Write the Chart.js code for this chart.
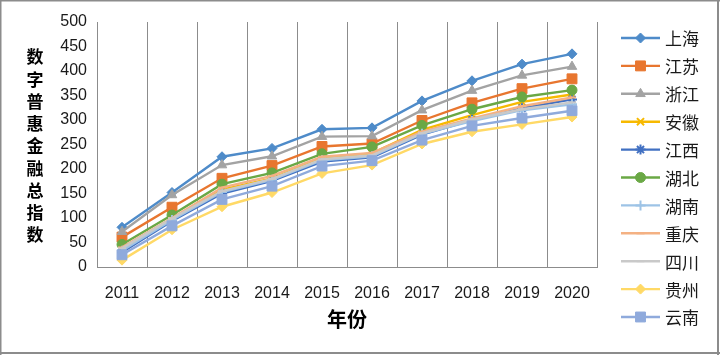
<!DOCTYPE html>
<html><head><meta charset="utf-8">
<script src="https://cdn.jsdelivr.net/npm/chart.js@4/dist/chart.umd.min.js"></script>
<style>html,body{margin:0;padding:0;background:#fff;}#wrap{width:720px;height:355px;}</style>
</head><body><div id="wrap"><canvas id="c" width="720" height="355"></canvas></div>
<script>
// ---- data ----
const years = ['2011','2012','2013','2014','2015','2016','2017','2018','2019','2020'];
const seriesNames = ['上海','江苏','浙江','安徽','江西','湖北','湖南','重庆','四川','贵州','云南'];
const shanghai  = [81, 152, 225, 242, 281, 284, 339, 380, 414, 435];
const jiangsu   = [61, 122, 181, 207, 246, 252, 299, 335, 364, 384];
const zhejiang  = [72, 147, 208, 226, 266, 267, 320, 360, 391, 409];
const anhui     = [36, 97, 158, 181, 222, 232, 280, 310, 337, 352];
const jiangxi   = [30, 94, 150, 176, 215, 224, 270, 300, 324, 342];
const hubei     = [46, 106, 169, 192, 231, 245, 289, 322, 347, 361];
const hunan     = [33, 96, 153, 178, 218, 226, 272, 298, 320, 332];
const chongqing = [40, 100, 162, 186, 225, 233, 276, 303, 328, 346];
const sichuan   = [38, 99, 155, 180, 220, 228, 273, 301, 322, 336];
const guizhou   = [14, 76, 123, 152, 191, 208, 251, 276, 291, 306];
const yunnan    = [25, 84, 138, 165, 206, 217, 259, 288, 304, 319];
const yTicks    = [0, 50, 100, 150, 200, 250, 300, 350, 400, 450, 500];
const xTitle = '年份';
const yTitle = '数字普惠金融总指数';

const seriesValues = [shanghai, jiangsu, zhejiang, anhui, jiangxi, hubei, hunan, chongqing, sichuan, guizhou, yunnan];

// ---- styles ----
const colors = ['#4e8bc9','#e8762f','#a3a3a3','#f7b900','#4170c2','#6aa845','#9dc3e6','#f4b183','#c9c9c9','#ffd966','#8faadc'];
const pStyles = ['rectRot','rect','triangle','crossRot','star','circle','cross','line','line','rectRot','rect'];
const pRadius = [5, 7, 5.5, 5, 5, 5, 5, 4, 4, 5, 7];
const cjk = '"Noto Sans CJK SC", "Noto Sans", sans-serif';
const lat = '"Liberation Sans", Arial, sans-serif';

const datasets = seriesValues.map((vals, i) => ({
  label: seriesNames[i],
  data: vals,
  borderColor: colors[i],
  backgroundColor: colors[i],
  borderWidth: 2.4,
  pointStyle: pStyles[i],
  pointRadius: pRadius[i],
  pointHoverRadius: pRadius[i],
  pointBorderWidth: (pStyles[i]==='crossRot'||pStyles[i]==='star'||pStyles[i]==='cross'||pStyles[i]==='line') ? 2 : 1,
  pointBackgroundColor: colors[i],
  pointBorderColor: colors[i],
  tension: 0,
  order: seriesValues.length - 1 - i
}));

const decor = {
  id: 'decor',
  afterDraw(chart) {
    const ctx = chart.ctx;
    ctx.save();
    // legend
    const x0 = 621, x1 = 660, yStart = 38, step = 27.9;
    chart.data.datasets.forEach((ds, i) => {
      const y = yStart + i * step;
      ctx.strokeStyle = ds.borderColor;
      ctx.lineWidth = 2.4;
      ctx.beginPath(); ctx.moveTo(x0, y); ctx.lineTo(x1, y); ctx.stroke();
      ctx.fillStyle = ds.pointBackgroundColor;
      ctx.strokeStyle = ds.pointBorderColor;
      ctx.lineWidth = ds.pointBorderWidth;
      Chart.helpers.drawPoint(ctx, {pointStyle: ds.pointStyle, radius: ds.pointRadius, borderWidth: ds.pointBorderWidth, rotation: 0}, (x0 + x1) / 2, y);
      ctx.fillStyle = '#1a1a1a';
      ctx.font = '17px ' + cjk;
      ctx.textAlign = 'left';
      ctx.textBaseline = 'middle';
      ctx.fillText(ds.label, 665, y + 1);
    });
    // y title stacked
    ctx.fillStyle = '#000';
    ctx.font = 'bold 17px ' + cjk;
    ctx.textAlign = 'center';
    ctx.textBaseline = 'middle';
    Array.from(yTitle).forEach((ch, i) => ctx.fillText(ch, 35, 57 + i * 22.25));
    // frame
    ctx.fillStyle = '#8c8c8c';
    ctx.fillRect(0, 0, 720, 1.5);
    ctx.fillRect(0, 0, 1.5, 355);
    ctx.fillRect(717, 0, 2, 355);
    ctx.fillRect(0, 352, 720, 2);
    ctx.restore();
  }
};

new Chart(document.getElementById('c'), {
  type: 'line',
  data: { labels: years, datasets },
  options: {
    responsive: false,
    animation: false,
    devicePixelRatio: 1,
    layout: { padding: { left: 57, right: 123, top: 22, bottom: 0 } },
    plugins: { legend: { display: false }, tooltip: { enabled: false } },
    scales: {
      x: {
        offset: true,
        grid: { display: true, color: '#8c8c8c', lineWidth: 1, drawTicks: false, offset: true },
        border: { display: true, color: '#8c8c8c', width: 1 },
        ticks: { color: '#1a1a1a', font: { family: lat, size: 16 }, padding: 17, maxRotation: 0 },
        title: { display: true, text: xTitle, color: '#000', font: { family: cjk, size: 20, weight: 'bold' }, padding: { top: 0, bottom: 24 } },
        afterFit(s) { s.height = 88; }
      },
      y: {
        min: 0, max: 500,
        afterBuildTicks(s) { s.ticks = yTicks.map(v => ({ value: v })); },
        grid: { display: false, drawTicks: false },
        border: { display: false },
        ticks: { color: '#1a1a1a', font: { family: lat, size: 16 }, padding: 10 },
        afterFit(s) { s.width = 40; }
      }
    }
  },
  plugins: [decor]
});
</script>
</body></html>
